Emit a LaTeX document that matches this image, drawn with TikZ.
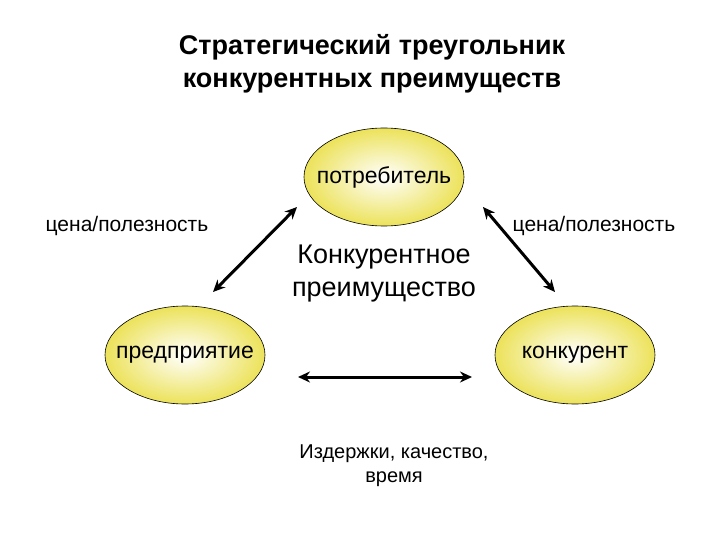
\documentclass[tikz,border=0pt]{standalone}
\usepackage{fontspec}
\setmainfont{Liberation Sans}
\usetikzlibrary{shapes.geometric,arrows.meta}
\definecolor{edgey}{RGB}{236,226,90}
\begin{document}
\begin{tikzpicture}[x=1pt,y=-1pt,
  oval/.style={ellipse,draw=black,line width=0.6pt,inner color=white,outer color=edgey,minimum width=160pt,minimum height=98pt,inner sep=0pt},
  arr/.style={line width=3pt,{Stealth[length=12pt,width=11pt]}-{Stealth[length=12pt,width=11pt]}},
  lbl/.style={font=\fontsize{21}{24}\selectfont},
  olbl/.style={font=\fontsize{23}{26}\selectfont}]
\useasboundingbox (0,0) rectangle (720,540);
\node[font=\bfseries\fontsize{27}{33}\selectfont,align=center] (title) at (372,64) {Стратегический треугольник\\конкурентных преимуществ};
\node[oval] (top) at (384,177) {};
\node[olbl] (topt) at (384,177) {потребитель};
\node[oval] (left) at (185,355) {};
\node[olbl] (leftt) at (185,355) {предприятие};
\node[oval] (right) at (575,355) {};
\node[olbl] (rightt) at (575,355) {конкурент};
\node[lbl] (pl) at (127,226) {цена/полезность};
\node[lbl] (pr) at (594,226) {цена/полезность};
\node[font=\fontsize{27}{33}\selectfont,align=center] (ca) at (384,274) {Конкурентное\\преимущество};
\node[font=\fontsize{20}{24}\selectfont,align=center] (cost) at (394,466) {Издержки, качество,\\время};
\coordinate (a1) at (297,207); \coordinate (a2) at (213,292);
\coordinate (b1) at (483,207); \coordinate (b2) at (555,292);
\coordinate (c1) at (298,377); \coordinate (c2) at (472,377);
\draw[arr] (a1) -- (a2);
\draw[arr] (b1) -- (b2);
\draw[arr] (c1) -- (c2);
\end{tikzpicture}
\end{document}
